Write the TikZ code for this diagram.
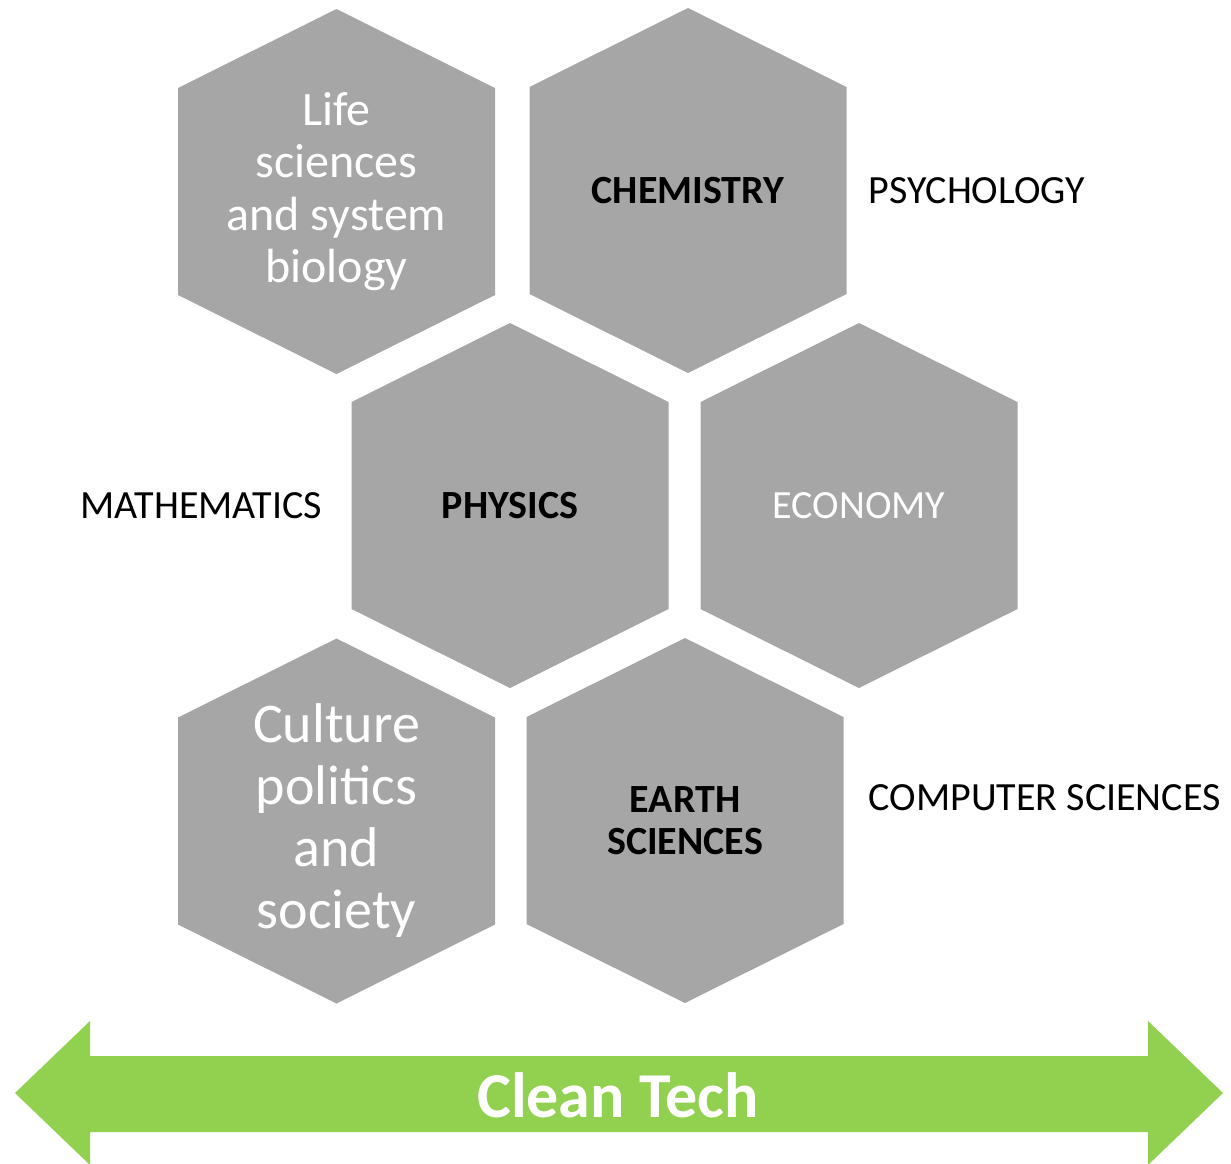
\documentclass[tikz,border=0pt]{standalone}
\usepackage{fontspec}
\setmainfont{Carlito}
\usetikzlibrary{positioning}
\definecolor{hexgray}{HTML}{A6A6A6}
\definecolor{techgreen}{HTML}{92D050}
\tikzset{
  hexcell/.style={minimum width=317pt, minimum height=365pt, inner sep=0pt, align=center,
    path picture={\fill[hexgray] (path picture bounding box.north) -- ++(158.5pt,-79pt) -- ++(0pt,-207pt)
      -- ++(-158.5pt,-79pt) -- ++(-158.5pt,79pt) -- ++(0pt,207pt) -- cycle;}},
  label/.style={inner sep=0pt, font=\fontsize{40}{44}\selectfont},
  boldcell/.style={hexcell, font=\fontsize{40}{42}\selectfont\bfseries},
  bigwhite/.style={text=white, font=\fontsize{48}{52.5}\selectfont},
  hugewhite/.style={text=white, font=\fontsize{56}{62}\selectfont}
}
\begin{document}
\begin{tikzpicture}[x=1pt,y=1pt]
  \clip (0,0) rectangle (1231,-1163);

  % hexagons
  \node[hexcell, bigwhite] (life) at (336.5,-191.5) {Life\\sciences\\and system\\biology};
  \node[boldcell] (chem) at (688,-190.5) {CHEMISTRY};
  \node[boldcell] (phys) at (510,-505.5) {PHYSICS};
  \node[hexcell, text=white, font=\fontsize{40}{42}\selectfont] (econ) at (859,-505.5) {ECONOMY};
  \node[hexcell, hugewhite] (culture) at (336.5,-821) {Culture\\politics\\and\\society};
  \node[boldcell] (earth) at (685,-820.5) {EARTH\\SCIENCES};

  % labels outside
  \node[label, right=22pt of chem] (psych) {PSYCHOLOGY};
  \node[label, left=29pt of phys] (math) {MATHEMATICS};
  \node[label, right=25pt of earth, yshift=22.5pt] (comp) {COMPUTER SCIENCES};

  % clean tech arrow
  \fill[techgreen] (15,-1093) -- (90,-1021) -- (90,-1056) -- (1148,-1056) -- (1148,-1021) -- (1223,-1093)
    -- (1148,-1165) -- (1148,-1132) -- (90,-1132) -- (90,-1165) -- cycle;
  \node[text=white, font=\fontsize{64}{70}\selectfont\bfseries] (tech) at (618,-1095) {Clean Tech};
\end{tikzpicture}
\end{document}
